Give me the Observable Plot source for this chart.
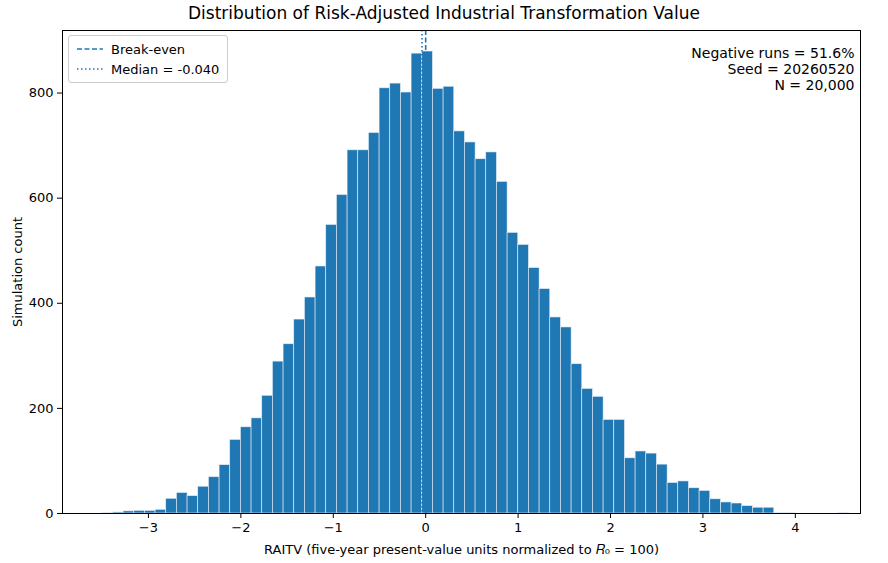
<!DOCTYPE html>
<html><head><meta charset="utf-8">
<script src="https://cdn.jsdelivr.net/npm/d3@7"></script>
<script src="https://cdn.jsdelivr.net/npm/@observablehq/plot@0.6"></script>
<style>
body{margin:0;background:#fff;font-family:"DejaVu Sans",sans-serif;}
#wrap{position:relative;width:888px;}
#title{height:28px;text-align:center;font-size:17px;line-height:26px;color:#000;}
#legend{position:absolute;left:68px;top:35px;border:1px solid #ccc;border-radius:3px;background:rgba(255,255,255,0.85);padding:3px 8px;font-size:13px;}
#legend div{display:flex;align-items:center;height:20px;}
#legend svg{margin-right:8px;}
</style></head>
<body><div id="wrap">
<div id="title">Distribution of Risk-Adjusted Industrial Transformation Value</div>
<div id="chart"></div>
<div id="legend">
<div><svg width="26" height="4"><line x1="0" x2="26" y1="2" y2="2" stroke="#1f77b4" stroke-width="1.6" stroke-dasharray="5,2.5"/></svg>Break-even</div>
<div><svg width="26" height="4"><line x1="0" x2="26" y1="2" y2="2" stroke="#1f77b4" stroke-width="1.6" stroke-dasharray="1.5,2.5"/></svg>Median = -0.040</div>
</div>
</div>
<script>
const binStart = -3.50;
const binWidth = 0.11543;
const counts = [1,2,4,5,5,7,28,39,33,51,69,92,140,164,181,224,289,322,369,411,
470,549,606,691,691,724,809,818,801,875,879,808,812,727,706,674,687,631,534,511,
467,427,373,354,284,237,222,178,178,105,118,114,93,58,61,48,43,27,21,19,
14,11,11,1,1,0,0,0,0,1];
const breakEven = 0;
const median = -0.040;
const notes = ["Negative runs = 51.6%", "Seed = 20260520", "N = 20,000"];
const xTicks = [-3,-2,-1,0,1,2,3,4];
const yTicks = [0,200,400,600,800];

const bins = counts.map((c,i)=>({x1: binStart + i*binWidth, x2: binStart + (i+1)*binWidth, y: c}));
const blue = "#1f77b4";
const chart = Plot.plot({
  width: 888, height: 535,
  marginLeft: 62, marginRight: 28, marginTop: 2, marginBottom: 50,
  style: {fontSize: "13px", fontFamily: "DejaVu Sans, sans-serif", color: "#000"},
  x: {domain: [-3.93, 4.705], ticks: xTicks, tickSize: 5, label: "RAITV (five-year present-value units normalized to 𝑅₀ = 100)", labelAnchor: "center", labelArrow: "none", labelOffset: 40},
  y: {domain: [0, 919], ticks: yTicks, tickSize: 5, label: "Simulation count", labelAnchor: "center", labelArrow: "none", labelOffset: 50},
  marks: [
    Plot.rectY(bins, {x1: "x1", x2: "x2", y: "y", fill: blue, stroke: "#e8eef5", strokeWidth: 0.6}),
    Plot.ruleX([breakEven], {stroke: blue, strokeWidth: 1.6, strokeDasharray: "5,2.5"}),
    Plot.ruleX([median], {stroke: blue, strokeWidth: 1.6, strokeDasharray: "1.5,2.5"}),
    Plot.text([notes.join("\n")], {frameAnchor: "top-right", dx: -6, dy: 16, textAnchor: "end", fontSize: 14, lineHeight: 1.15, fill: "#000"}),
    Plot.frame({stroke: "#000"})
  ]
});
document.getElementById("chart").appendChild(chart);
</script>
</body></html>
